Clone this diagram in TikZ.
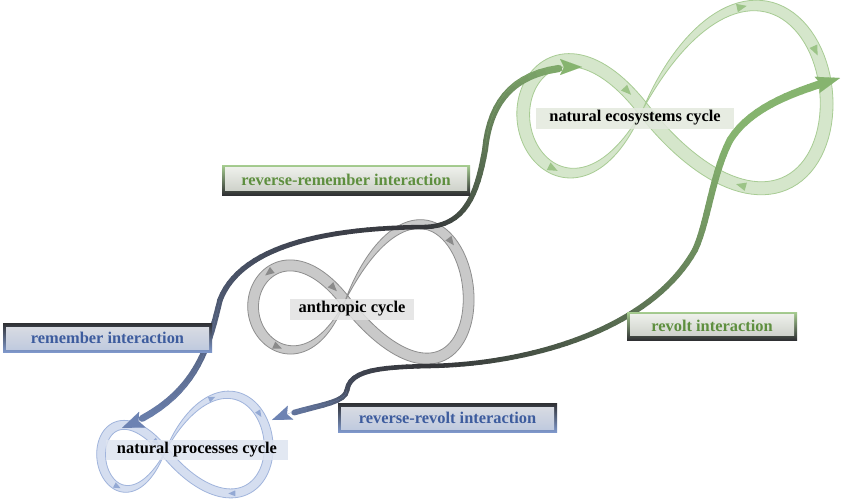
\documentclass[tikz,border=0pt]{standalone}
\usepackage{fontspec}
\setmainfont{Liberation Serif}
\usetikzlibrary{arrows.meta}
\definecolor{ecoF}{HTML}{D5E6CB}
\definecolor{ecoE}{HTML}{A8CC94}
\definecolor{ecoM}{HTML}{9CC487}
\definecolor{antF}{HTML}{C9C9C9}
\definecolor{antE}{HTML}{8E8E8E}
\definecolor{antM}{HTML}{8A8A8A}
\definecolor{proF}{HTML}{D5DEF0}
\definecolor{proE}{HTML}{A0B4DC}
\definecolor{proM}{HTML}{93A9D4}
\definecolor{ldark}{HTML}{35363A}
\definecolor{lgreen}{HTML}{86B46F}
\definecolor{lblue}{HTML}{6D83B3}
\colorlet{mixRB}{ldark!55!lblue}
\colorlet{mixRG}{ldark!50!lgreen}
\colorlet{mixVB}{ldark!70!lblue}
\colorlet{mixVG}{lgreen!70!ldark}
\definecolor{tgreen}{HTML}{5E8F3F}
\definecolor{tblue}{HTML}{3D5C9E}
\definecolor{gtop}{HTML}{A6CD90}
\definecolor{bdark}{HTML}{2F3033}
\definecolor{btop}{HTML}{7F98CB}
\definecolor{ginA}{HTML}{F1F3EE}
\definecolor{ginB}{HTML}{C8CCC4}
\definecolor{binA}{HTML}{DCDEE3}
\definecolor{binB}{HTML}{BDC8DE}
\definecolor{ecoL}{HTML}{E3E9DE}
\definecolor{antL}{HTML}{E2E2E2}
\definecolor{proL}{HTML}{DEE4F0}
\def\pCx{0}\def\pCy{0}\def\pSx{1}\def\pSy{1}\def\pau{0}\def\pav{0}\def\prot{0}\def\pW{1}
\def\plam{0.4}
\newcommand\setcyc[8]{\def\pCx{#1}\def\pCy{#2}\def\pSx{#3}\def\pSy{#4}\def\pau{#5}\def\pav{#6}\def\prot{#7}\def\pW{#8}}
\newcommand\cycband[2]{%
  \filldraw[fill=#1, draw=#2, line width=0.8pt, line join=round]
    plot[domain=180:540,samples=181] ({eX(\x,1)},{eY(\x,1)}) --
    plot[domain=540:180,samples=181] ({eX(\x,-1)},{eY(\x,-1)}) -- cycle;}
\newcommand\cmarks[3]{%
  \foreach \mt/\mo in {#3}{%
    \pgfmathsetmacro\mx{cX(\mt)}%
    \pgfmathsetmacro\my{cY(\mt)}%
    \pgfmathsetmacro\ma{ang(\mt)+\mo}%
    \pgfmathsetmacro\mc{cos(\ma)}%
    \pgfmathsetmacro\mz{sin(\ma)}%
    \fill[#1] ({\mx+#2*(\mc)},{\my+#2*(\mz)}) --
      ({\mx-#2*(\mc)-0.85*#2*(\mz)},{\my-#2*(\mz)+0.85*#2*(\mc)}) --
      ({\mx-#2*(\mc)+0.85*#2*(\mz)},{\my-#2*(\mz)-0.85*#2*(\mc)}) -- cycle;
  }}
\newcommand\mkpts[6]{%
  \path (#3) .. controls (#4) and (#5) .. (#6)
    foreach \k in {0,...,#2} {coordinate[pos=\k/#2] (#1-\k)};}
\newcommand\gseg[7]{%
  \foreach \k [evaluate=\k as \kk using int(\k+1),
               evaluate=\k as \pc using int(100*\k/#2),
               evaluate=\k as \lw using #5+(#6-#5)*\k/#2] in {0,...,#7}{%
    \draw[line width=\lw pt, line cap=round, draw={#4!\pc!#3}] (#1-\k) -- (#1-\kk);
  }}
\tikzset{
  lab/.style={font=\bfseries\fontsize{16.4}{19}\selectfont, inner sep=0pt},
  gbox/.style={lab, text=tgreen, top color=gtop, bottom color=bdark,
    path picture={\shade[top color=ginA, bottom color=ginB]
      ([shift={(3pt,-2.5pt)}]path picture bounding box.north west) rectangle
      ([shift={(-3pt,5pt)}]path picture bounding box.south east);}},
  bbox/.style={lab, text=tblue, top color=bdark, bottom color=btop,
    path picture={\shade[top color=binA, bottom color=binB]
      ([shift={(3pt,-4pt)}]path picture bounding box.north west) rectangle
      ([shift={(-3pt,3pt)}]path picture bounding box.south east);}},
  clab/.style={lab, text=black, fill opacity=0.85, text opacity=1},
  tipline/.style={line width=0.1pt}
}
\begin{document}
\begin{tikzpicture}[x=1pt,y=-1pt,
  declare function={
    ku(\x)=1+\pau*sin(\x);
    kv(\x)=1+\pav*sin(\x);
    gu(\x)=sin(\x)*((1-\plam)+\plam*abs(sin(\x)));
    cU(\x)=\pSx*ku(\x)*gu(\x);
    cV(\x)=\pSy*kv(\x)*sin(\x)*cos(\x);
    dU(\x)=\pSx*(\pau*cos(\x)*gu(\x)+ku(\x)*cos(\x)*((1-\plam)+2*\plam*abs(sin(\x))));
    dV(\x)=\pSy*(\pav*cos(\x)*sin(\x)*cos(\x)+kv(\x)*cos(2*\x));
    cX(\x)=\pCx+cos(\prot)*cU(\x)-sin(\prot)*cV(\x);
    cY(\x)=\pCy+sin(\prot)*cU(\x)+cos(\prot)*cV(\x);
    dX(\x)=cos(\prot)*dU(\x)-sin(\prot)*dV(\x);
    dY(\x)=sin(\prot)*dU(\x)+cos(\prot)*dV(\x);
    ang(\x)=atan2(dY(\x),dX(\x));
    wd(\x)=\pW*(1-(1-abs(cos(\x/2)))^3);
    eX(\x,\y)=cX(\x)-(\y)*0.5*wd(\x)*sin(ang(\x));
    eY(\x,\y)=cY(\x)+(\y)*0.5*wd(\x)*cos(ang(\x));
  }]
\fill[white] (0,0) rectangle (845,498);
\useasboundingbox (0,0) rectangle (845,498);

% ---- cycles (ribbons) ----
\begin{scope}
  \setcyc{643}{109}{152}{147}{0.21}{0.34}{-6}{13}
  \cycband{ecoF}{ecoE}
  \cmarks{ecoM}{5}{352/0,135/180,102/180,38/180,235/180}
\end{scope}
\begin{scope}
  \setcyc{345}{301}{108}{109}{0.146}{0.33}{-7}{11}
  \cycband{antF}{antE}
  \cmarks{antM}{4.5}{352/0,110/180,235/180,305/180}
\end{scope}
\begin{scope}
  \setcyc{165}{452}{84}{81}{0.238}{0.305}{-7}{9}
  \cycband{proF}{proE}
  \cmarks{proM}{3.5}{352/0,140/180,105/180,45/180,235/180}
\end{scope}

% ---- interaction connectors ----
\coordinate (Am) at (425,227);
\coordinate (A1a) at (320,228); \coordinate (A1b) at (240,248); \coordinate (A1e) at (220,300);
\coordinate (A2a) at (208,350); \coordinate (A2b) at (195,398); \coordinate (PA) at (122,428);
\coordinate (A3a) at (465,226); \coordinate (A3b) at (477,195); \coordinate (A3e) at (485,150);
\coordinate (A4a) at (490,100); \coordinate (A4b) at (515,67); \coordinate (EA) at (582,67);
\coordinate (Bm) at (430,366);
\coordinate (B1a) at (380,367); \coordinate (B1b) at (350,370); \coordinate (B1e) at (347,390);
\coordinate (B2a) at (345,405); \coordinate (B2b) at (310,405); \coordinate (PB) at (272,420);
\coordinate (B3a) at (530,364); \coordinate (B3b) at (650,330); \coordinate (B3e) at (695,250);
\coordinate (B4a) at (708,222); \coordinate (B4b) at (712,175); \coordinate (B4e) at (730,140);
\coordinate (B5a) at (752,105); \coordinate (B5b) at (800,90); \coordinate (EB) at (840,78);

\mkpts{ra}{26}{Am}{A1a}{A1b}{A1e}
\mkpts{rb}{20}{A1e}{A2a}{A2b}{PA}
\mkpts{rc}{16}{Am}{A3a}{A3b}{A3e}
\mkpts{rd}{16}{A3e}{A4a}{A4b}{EA}
\mkpts{va}{12}{Bm}{B1a}{B1b}{B1e}
\mkpts{vb}{10}{B1e}{B2a}{B2b}{PB}
\mkpts{vc}{36}{Bm}{B3a}{B3b}{B3e}
\mkpts{vd}{14}{B3e}{B4a}{B4b}{B4e}
\mkpts{ve}{16}{B4e}{B5a}{B5b}{EB}

\gseg{ra}{26}{ldark}{mixRB}{4.5}{5.5}{25}
\gseg{rb}{20}{mixRB}{lblue}{5.5}{7}{17}
\gseg{rc}{16}{ldark}{mixRG}{4.5}{6}{15}
\gseg{rd}{16}{mixRG}{lgreen}{6}{7.5}{13}
\gseg{va}{12}{ldark}{mixVB}{4.5}{5}{11}
\gseg{vb}{10}{mixVB}{lblue}{5}{6}{7}
\gseg{vc}{36}{ldark}{mixVG}{4.5}{6}{35}
\gseg{vd}{14}{mixVG}{lgreen}{6}{7}{13}
\gseg{ve}{16}{lgreen}{lgreen}{7}{8}{13}

\path[draw=lblue, tipline, -{Stealth[length=22pt,width=17pt,inset=4pt]}] (A1e) .. controls (A2a) and (A2b) .. (PA);
\path[draw=lgreen, tipline, -{Stealth[length=22pt,width=16pt,inset=4pt]}] (A3e) .. controls (A4a) and (A4b) .. (EA);
\path[draw=lblue, tipline, -{Stealth[length=20pt,width=15pt,inset=4pt]}] (B1e) .. controls (B2a) and (B2b) .. (PB);
\path[draw=lgreen, tipline, -{Stealth[length=24pt,width=17pt,inset=4pt]}] (B4e) .. controls (B5a) and (B5b) .. (EB);

% ---- labels ----
\node[gbox, minimum width=248pt, minimum height=30pt] (rrem) at (346,180) {reverse-remember interaction};
\node[bbox, minimum width=209pt, minimum height=29pt] (rem) at (107.5,337.5) {remember interaction};
\node[bbox, minimum width=219pt, minimum height=29pt] (rrev) at (447.5,417.5) {reverse-revolt interaction};
\node[gbox, minimum width=170pt, minimum height=28pt] (rev) at (712,326) {revolt interaction};

\node[clab, fill=ecoL, minimum width=198pt, minimum height=21pt] (ecolab) at (635,118) {natural ecosystems cycle};
\node[clab, fill=antL, minimum width=124pt, minimum height=21pt] (antlab) at (352,309) {anthropic cycle};
\node[clab, fill=proL, minimum width=182pt, minimum height=20pt] (prolab) at (197,450) {natural processes cycle};
\end{tikzpicture}
\end{document}
